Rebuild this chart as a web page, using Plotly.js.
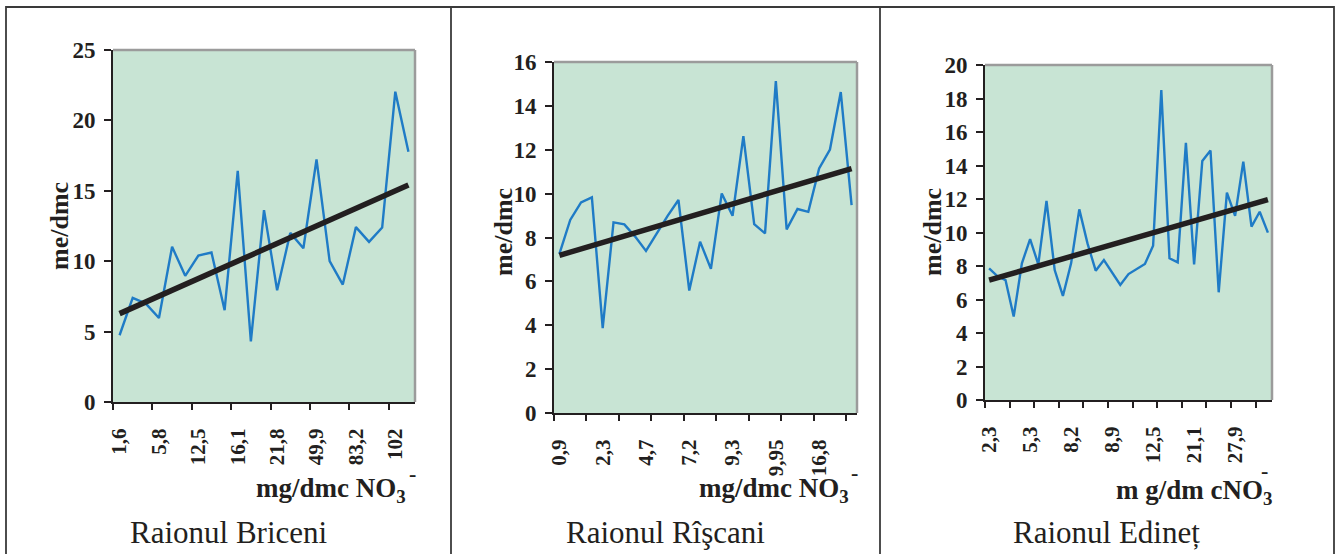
<!DOCTYPE html>
<html>
<head>
<meta charset="utf-8">
<script src="https://cdn.plot.ly/plotly-3.0.1.min.js"></script>
<style>html,body{margin:0;padding:0;background:#fff;}#chart{width:1338px;height:554px;}</style>
</head>
<body>
<div id="chart"></div>
<script>
// ---------- data ----------
const briceniValues = [4.74,7.39,6.99,5.97,11.02,8.96,10.40,10.62,6.52,16.42,4.31,13.63,7.94,12.01,10.92,17.23,10.0,8.34,12.42,11.37,12.39,22.04,17.77];
const briceniTickText = ["1,6","5,8","12,5","16,1","21,8","49,9","83,2","102"];
const briceniTickIdx = [0,3,6,9,12,15,18,21];
const briceniYTicks = [0,5,10,15,20,25];

const riscaniValues = [7.25,8.80,9.60,9.83,3.87,8.69,8.60,8.04,7.39,8.22,8.99,9.71,5.58,7.81,6.57,10.01,8.99,12.62,8.61,8.19,15.13,8.37,9.30,9.17,11.15,12.01,14.63,9.48];
const riscaniTickText = ["0,9","2,3","4,7","7,2","9,3","9,95","16,8"];
const riscaniTickIdx = [0,4,8,12,16,20,24];
const riscaniYTicks = [0,2,4,6,8,10,12,14,16];

const edinetValues = [7.86,7.40,7.16,4.98,8.16,9.61,8.10,11.88,7.76,6.21,8.16,11.38,9.35,7.72,8.36,7.60,6.87,7.52,7.80,8.12,9.21,18.51,8.46,8.22,15.36,8.10,14.27,14.89,6.43,12.38,10.99,14.23,10.35,11.24,9.99];
const edinetTickText = ["2,3","5,3","8,2","8,9","12,5","21,1","27,9"];
const edinetTickIdx = [0,5,10,15,20,25,30];
const edinetYTicks = [0,2,4,6,8,10,12,14,16,18,20];

const panelTitles = ["Raionul Briceni","Raionul Rîşcani","Raionul Edineț"];
const yTitle = "me/dmc";
const xTitles = ["mg/dmc NO<sub>3</sub>","mg/dmc NO<sub>3</sub>","m g/dm cNO<sub>3</sub>"];

// ---------- helpers ----------
const W = 1338, H = 554;
const DARK = "#231f20";
const FONT = "Liberation Serif";
const BLUE = "#1f7bc6";
const BG = "rgb(200,228,212)";

function idx(n){ return Array.from({length:n}, (_, i) => i); }
function bold(s){ return "<b>"+s+"</b>"; }
function linfit(v){
  const n = v.length, xs = idx(n);
  const mx = xs.reduce((a,b)=>a+b,0)/n, my = v.reduce((a,b)=>a+b,0)/n;
  let sxy=0, sxx=0;
  for(let i=0;i<n;i++){ sxy += (xs[i]-mx)*(v[i]-my); sxx += (xs[i]-mx)**2; }
  const b = sxy/sxx, a = my - b*mx;
  return [0, n-1].map(x => a + b*x);
}

const panels = [
  {vals: briceniValues, tt: briceniTickText, ti: briceniTickIdx, yt: briceniYTicks, box:[113,415,50,402]},
  {vals: riscaniValues, tt: riscaniTickText, ti: riscaniTickIdx, yt: riscaniYTicks, box:[554,857,62,413]},
  {vals: edinetValues, tt: edinetTickText, ti: edinetTickIdx, yt: edinetYTicks, box:[985,1272,65,400]}
];

const traces = [], layout = {
  width: W, height: H, margin:{l:0,r:0,t:0,b:0},
  paper_bgcolor:"#fff", plot_bgcolor: BG, showlegend:false,
  font:{family:FONT, color:DARK},
  shapes:[], annotations:[]
};

panels.forEach((p, k) => {
  const n = p.vals.length;
  const xa = k===0 ? "x" : "x"+(k+1);
  const ya = k===0 ? "y" : "y"+(k+1);
  const xt = "x"+(k+4); // tick overlay axis
  const xName = k===0 ? "xaxis" : "xaxis"+(k+1);
  const yName = k===0 ? "yaxis" : "yaxis"+(k+1);
  const [l,r,t,b] = p.box;
  const range = [-0.5, n-0.5];
  const bounds = []; for(let v=-0.5; v<n-1; v+=3) bounds.push(v);

  traces.push({type:"scatter", mode:"lines", x: idx(n), y: p.vals, xaxis: xa, yaxis: ya,
    line:{color:BLUE, width:2.4}, hoverinfo:"skip"});
  traces.push({type:"scatter", mode:"lines", x:[0, n-1], y: linfit(p.vals), xaxis: xt, yaxis: ya,
    line:{color:DARK, width:5.5}, hoverinfo:"skip"});

  layout[xName] = {domain:[l/W, r/W], range: range, anchor: ya,
    tickvals: p.ti, ticktext: p.tt.map(bold), tickangle:-90, ticks:"", ticklabelstandoff: 16,
    tickfont:{family:FONT, size:21, color:DARK, weight:700},
    showline:true, linecolor:DARK, linewidth:2, showgrid:false, zeroline:false, fixedrange:true};
  layout["xaxis"+(k+4)] = {overlaying: xa, anchor: ya, range: range, tickvals: bounds,
    ticks:"outside", ticklen:7, tickwidth:2, tickcolor:DARK, showticklabels:false,
    showline:false, showgrid:false, zeroline:false, fixedrange:true};
  layout[yName] = {domain:[1-b/H, 1-t/H], range:[0, p.yt[p.yt.length-1]], anchor: xa,
    tickvals: p.yt, ticktext: p.yt.map(v => bold(String(v))),
    ticks:"outside", ticklen:7, tickwidth:2, tickcolor:DARK, ticklabelstandoff: 4,
    tickfont:{family:FONT, size:23, color:DARK, weight:700},
    showline:true, linecolor:DARK, linewidth:2, showgrid:false, zeroline:false, fixedrange:true};

  // gray top/right border
  layout.shapes.push({type:"line", xref:xa+" domain", yref:ya+" domain", x0:0, x1:1, y0:1, y1:1, line:{color:"#9b9b9b", width:2.5}});
  layout.shapes.push({type:"line", xref:xa+" domain", yref:ya+" domain", x0:1, x1:1, y0:0, y1:1, line:{color:"#9b9b9b", width:2.5}});
});

// frame and dividers
layout.shapes.push({type:"rect", xref:"paper", yref:"paper", x0:6/W, x1:1334/W, y0:-0.05, y1:1-7/H, line:{color:"#3a3a3a", width:1.8}});
layout.shapes.push({type:"line", xref:"paper", yref:"paper", x0:451/W, x1:451/W, y0:0, y1:1-7/H, line:{color:"#3a3a3a", width:1.8}});
layout.shapes.push({type:"line", xref:"paper", yref:"paper", x0:880/W, x1:880/W, y0:0, y1:1-7/H, line:{color:"#3a3a3a", width:1.8}});

// y titles
[[59,226],[504,232],[933,232]].forEach(([x,y]) => {
  layout.annotations.push({xref:"paper", yref:"paper", x:x/W, y:1-y/H, text:bold(yTitle), textangle:-90,
    showarrow:false, font:{family:FONT, size:26, color:DARK}, xanchor:"center", yanchor:"middle"});
});
// x titles (right-aligned)
[[408,490],[851,490],[1274,492]].forEach(([x,y], k) => {
  layout.annotations.push({xref:"paper", yref:"paper", x:x/W, y:1-y/H, text:bold(xTitles[k]),
    showarrow:false, font:{family:FONT, size:27, color:DARK}, xanchor:"right", yanchor:"middle"});
});
[[412,474],[854,472],[1264,470]].forEach(([x,y]) => {
  layout.annotations.push({xref:"paper", yref:"paper", x:x/W, y:1-y/H, text:bold("-"),
    showarrow:false, font:{family:FONT, size:22, color:DARK}, xanchor:"center", yanchor:"middle"});
});
// panel titles
[[229,532],[665,532],[1106,532]].forEach(([x,y], k) => {
  layout.annotations.push({xref:"paper", yref:"paper", x:x/W, y:1-y/H, text:panelTitles[k],
    showarrow:false, font:{family:FONT, size:31, color:DARK}, xanchor:"center", yanchor:"middle"});
});

Plotly.newPlot("chart", traces, layout, {staticPlot:true, displayModeBar:false});
</script>
</body>
</html>
